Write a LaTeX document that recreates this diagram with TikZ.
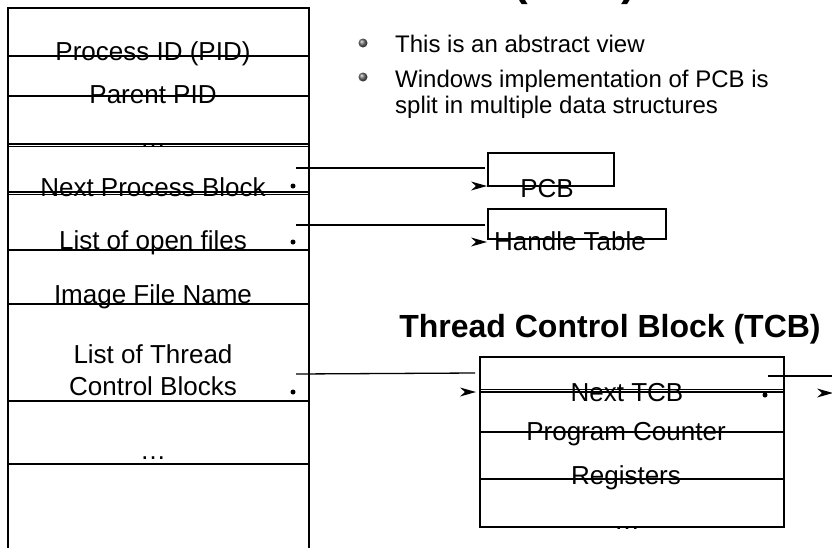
\documentclass[tikz,border=0pt]{standalone}
\usepackage{fontspec}
\setmainfont{Liberation Sans}
\begin{document}
\begin{tikzpicture}[x=1pt,y=-1pt,
  rule/.style={line width=1.6pt},
  thinrule/.style={line width=1.3pt},
  ptr/.style={line width=1.3pt},
  cell/.style={font=\fontsize{26}{30}\selectfont, anchor=base, inner sep=0pt},
  bul/.style={font=\fontsize{24}{28}\selectfont, anchor=base west, inner sep=0pt},
  ttl/.style={font=\bfseries\fontsize{32}{38}\selectfont, anchor=base, inner sep=0pt},
  boxnode/.style={draw, line width=1.3pt, inner sep=0pt},
  dotmark/.style={circle, fill, inner sep=0pt, minimum size=5pt},
  bulletball/.style={circle, inner sep=0pt, minimum size=9pt, ball color=gray!85!black}]
\useasboundingbox (0,0) rectangle (832,547);
\clip (0,0) rectangle (832,547);

% arrow head drawn on its own, tip at the given point
\newcommand{\tiphead}[1]{\fill (#1) -- ++(-16,-4.5) -- ++(5,4.5) -- ++(-5,4.5) -- cycle;}

% ---------- process control block table ----------
\draw[rule] (8,548) -- (8,8) -- (309,8) -- (309,548);
\foreach \yy in {56,96,250,304,401,464}
  \draw[rule] (8,\yy) -- (309,\yy);
\foreach \yy in {144,146.5,192,194.5}
  \draw[thinrule] (8,\yy) -- (309,\yy);

\node[cell] (pid)    at (153,60)  {Process ID (PID)};
\node[cell] (ppid)   at (153,103) {Parent PID};
\node[cell] (dots1)  at (153,146) {…};
\node[cell] (npb)    at (153,196) {Next Process Block};
\node[cell] (files)  at (153,249) {List of open files};
\node[cell] (image)  at (153,303) {Image File Name};
\node[cell] (tcbl1)  at (153,363) {List of Thread};
\node[cell] (tcbl2)  at (153,395) {Control Blocks};
\node[cell] (dots2)  at (153,459) {…};

\node[dotmark] (npbdot)   at (293,186) {};
\node[dotmark] (filesdot) at (293,242) {};
\node[dotmark] (tcbdot)   at (293,392) {};

% ---------- title (mostly above the page) ----------
\node[font=\bfseries\fontsize{44}{50}\selectfont, anchor=base east, inner sep=0pt]
  (pcbtitle) at (636,-5) {Process Control Block (PCB)};

% ---------- bullet notes ----------
\node[bulletball] (b1) at (363,43) {};
\node[bulletball] (b2) at (363,77) {};
\node[bul] (note1)  at (395,52)  {This is an abstract view};
\node[bul] (note2a) at (395,87)  {Windows implementation of PCB is};
\node[bul] (note2b) at (395,113) {split in multiple data structures};

% ---------- PCB and handle table boxes ----------
\node[boxnode, minimum width=126pt, minimum height=33pt] (pcbbox) at (551,169.5) {};
\node[cell] (pcbtxt) at (547,197) {PCB};
\node[boxnode, minimum width=178pt, minimum height=30pt] (htbox) at (577,224) {};
\node[cell] (httxt) at (570,250) {Handle Table};

\coordinate (npbstart) at (296,168);
\coordinate (npbend)   at (485,168);
\coordinate (fstart)   at (296,225);
\coordinate (fend)     at (485,225);
\draw[ptr] (npbstart) -- (npbend);
\draw[ptr] (fstart) -- (fend);
\coordinate (pcbtip) at (487,186);
\coordinate (httip)  at (487,242);
\tiphead{pcbtip}
\tiphead{httip}

% ---------- thread control block ----------
\node[ttl] (tcbtitle) at (610,337) {Thread Control Block (TCB)};
\node[boxnode, minimum width=304pt, minimum height=170pt] (tcbbox) at (632,442) {};
\draw[thinrule] (480,389.5) -- (784,389.5);
\draw[thinrule] (480,392) -- (784,392);
\draw[rule] (480,432) -- (784,432);
\draw[rule] (480,479) -- (784,479);

\node[cell] (nexttcb) at (627,401) {Next TCB};
\node[cell] (pc)      at (626,440) {Program Counter};
\node[cell] (regs)    at (626,484) {Registers};
\node[cell] (dots3)   at (627,529) {…};
\node[dotmark] (nextdot) at (765,395) {};

\coordinate (tinstart) at (296,374);
\coordinate (tinend)   at (475,373);
\draw[ptr] (tinstart) -- (tinend);
\coordinate (tintip) at (476,392);
\tiphead{tintip}

\coordinate (toutstart) at (768,376);
\coordinate (toutend)   at (834,376);
\draw[ptr] (toutstart) -- (toutend);
\coordinate (touttip) at (833,393);
\tiphead{touttip}
\end{tikzpicture}
\end{document}
